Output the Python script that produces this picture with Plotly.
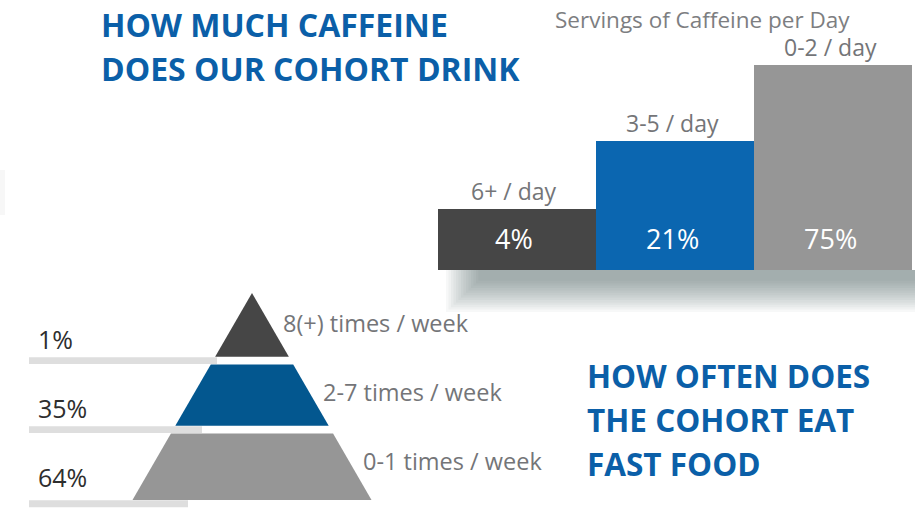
import math
import plotly.graph_objects as go

# ---------------- data ----------------
caffeine_categories = ["6+ / day", "3-5 / day", "0-2 / day"]
caffeine_share = [4, 21, 75]                 # % shown inside the bars
caffeine_bar_height = [30, 63, 100]          # relative bar heights as drawn in the picture
caffeine_colors = ["#464646", "#0b66b0", "#969696"]

fastfood_levels = ["8(+) times / week", "2-7 times / week", "0-1 times / week"]
fastfood_share = [1, 35, 64]
fastfood_colors = ["#464646", "#03578f", "#969696"]

title_caffeine = ["HOW MUCH CAFFEINE", "DOES OUR COHORT DRINK"]
title_fastfood = ["HOW OFTEN DOES", "THE COHORT EAT", "FAST FOOD"]
subtitle_caffeine = "Servings of Caffeine per Day"

# ---------------- layout constants ----------------
W, H = 915, 514
FONT = "Open Sans"
BLUE_TITLE = "#0b5fa8"
GRAY_TEXT = "#747578"
DARK_TEXT = "#2e2e2e"


def px(x):
    return x / W


def py(y):
    return 1 - y / H


fig = go.Figure()

# ---------- bar chart (caffeine) ----------
fig.add_trace(go.Bar(
    x=caffeine_categories, y=caffeine_bar_height,
    marker=dict(color=caffeine_colors, line=dict(width=0)),
    xaxis="x", yaxis="y", hoverinfo="skip", showlegend=False,
))

annotations = []
for cat, h, v in zip(caffeine_categories, caffeine_bar_height, caffeine_share):
    annotations.append(dict(
        x=cat, y=0, xref="x", yref="y", yanchor="middle", yshift=32, xshift=-3,
        text=f"{v}%", showarrow=False,
        font=dict(family=FONT, size=27, color="#ffffff")))
    annotations.append(dict(
        x=cat, y=h, xref="x", yref="y", yanchor="middle", yshift=18, xshift=-3,
        text=cat, showarrow=False,
        font=dict(family=FONT, size=23, color=GRAY_TEXT)))

annotations.append(dict(
    x=px(702), y=py(20), xref="paper", yref="paper", xanchor="center", yanchor="middle",
    text=subtitle_caffeine, showarrow=False,
    font=dict(family=FONT, size=22.5, color="#7d7e81")))

# ---------- pyramid (fast food) ----------
T = math.tan(math.radians(30))
UNIT = 69.0            # pixels per pyramid layer
APEX_X, APEX_Y = 252, 293
n = len(fastfood_levels)

layer_bottoms = []
for i, (lvl, share, col) in enumerate(zip(fastfood_levels, fastfood_share, fastfood_colors)):
    y0 = 0 if i == 0 else i + 0.035
    y1 = n if i == n - 1 else i + 1 - 0.075
    layer_bottoms.append(y1)
    xs = [-T * y0, T * y0, T * y1, -T * y1, -T * y0]
    ys = [y0, y0, y1, y1, y0]
    fig.add_trace(go.Scatter(
        x=xs, y=ys, mode="lines", fill="toself", fillcolor=col,
        line=dict(width=0, color=col), xaxis="x2", yaxis="y2",
        hoverinfo="skip", showlegend=False))
    # level label at right side of the pyramid
    ly = i + 0.43
    annotations.append(dict(
        x=T * ly + 0.17, y=ly, xref="x2", yref="y2", xanchor="left", yanchor="middle",
        text=lvl, showarrow=False,
        font=dict(family=FONT, size=23.5, color=GRAY_TEXT)))
    # percentage at left
    annotations.append(dict(
        x=px(36), y=i + 0.66, xref="paper", yref="y2", xanchor="left", yanchor="middle",
        text=f"{share}%", showarrow=False,
        font=dict(family=FONT, size=25, color=DARK_TEXT)))

# ---------- titles ----------
for k, line in enumerate(title_caffeine):
    annotations.append(dict(
        x=px(99), y=py(24 + 45 * k), xref="paper", yref="paper", xanchor="left", yanchor="middle",
        text=f"<b>{line}</b>", showarrow=False,
        font=dict(family=FONT, size=32, color=BLUE_TITLE)))
for k, line in enumerate(title_fastfood):
    annotations.append(dict(
        x=px(585), y=py(375 + 44 * k), xref="paper", yref="paper", xanchor="left", yanchor="middle",
        text=f"<b>{line}</b>", showarrow=False,
        font=dict(family=FONT, size=31.5, color=BLUE_TITLE)))

# ---------- decorative shapes ----------
shapes = []
# soft drop shadow under the bar chart
for k in range(14):
    shapes.append(dict(
        type="rect", xref="paper", yref="paper", layer="below",
        x0=px(446 + 2.5 * k), x1=px(915), y0=py(270), y1=py(312 - 2.4 * k),
        fillcolor="rgba(60,70,80,0.038)", line=dict(width=0)))
# faint edge at the far left
shapes.append(dict(type="rect", xref="paper", yref="paper", layer="below",
                   x0=0, x1=px(5), y0=py(215), y1=py(170),
                   fillcolor="rgba(0,0,0,0.03)", line=dict(width=0)))
# grey underlines below each percentage
underline_end_px = [217, 202, 188]
for i, yb in enumerate(layer_bottoms):
    c = yb + 0.055
    shapes.append(dict(
        type="rect", xref="paper", yref="y2", layer="below",
        x0=px(29), x1=px(underline_end_px[i]), y0=c - 0.05, y1=c + 0.05,
        fillcolor="#dedede", line=dict(width=0)))

fig.update_layout(
    width=W, height=H,
    margin=dict(l=0, r=0, t=0, b=0),
    paper_bgcolor="#ffffff", plot_bgcolor="rgba(0,0,0,0)",
    font=dict(family=FONT),
    bargap=0,
    xaxis=dict(domain=[px(438), px(912)], range=[-0.5, 2.5], visible=False,
               type="category", fixedrange=True),
    yaxis=dict(domain=[py(270), py(65)], range=[0, 100], visible=False, fixedrange=True),
    xaxis2=dict(domain=[0, 1], range=[-APEX_X / UNIT, (W - APEX_X) / UNIT], visible=False,
                anchor="y2", fixedrange=True),
    yaxis2=dict(domain=[0, 1], range=[(H - APEX_Y) / UNIT, -APEX_Y / UNIT], visible=False,
                anchor="x2", fixedrange=True),
    annotations=annotations,
    shapes=shapes,
    showlegend=False,
)

fig.write_html(
    "out.html",
    config={"displayModeBar": False, "staticPlot": True},
    post_script="document.body.style.margin='0';document.body.style.overflow='hidden';",
)
